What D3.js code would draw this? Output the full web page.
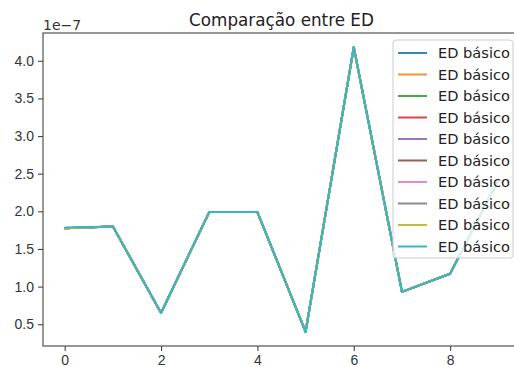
<!DOCTYPE html>
<html lang="en">
<head>
    <meta charset="utf-8">
    <title>Comparação entre ED</title>
    <script src="https://cdn.jsdelivr.net/npm/d3@7"></script>
</head>
<style>
    body {
        margin: 0;
        padding: 0;
        background-color: #ffffff;
        font-family: "DejaVu Sans", sans-serif;
    }
    .tick text {
        font-size: 14px;
        fill: #333;
    }
    .chart-title {
        font-size: 16.8px;
        text-anchor: middle;
        fill: #222;
    }
    .legend text {
        font-size: 14.6px;
        fill: #222;
    }
</style>
<body>
    <svg width="514" height="367" id="chart"></svg>
    <script>
        // x positions (index of each run)
        var xValues = [0, 1, 2, 3, 4, 5, 6, 7, 8, 9];

        // one array per "ED básico" series, values in units of 1e-7
        var series0 = [1.775, 1.80, 0.65, 1.99, 1.99, 0.40, 4.18, 0.93, 1.17, 2.42];
        var series1 = [1.775, 1.80, 0.65, 1.99, 1.99, 0.40, 4.18, 0.93, 1.17, 2.42];
        var series2 = [1.775, 1.80, 0.65, 1.99, 1.99, 0.40, 4.18, 0.93, 1.17, 2.42];
        var series3 = [1.775, 1.80, 0.65, 1.99, 1.99, 0.40, 4.18, 0.93, 1.17, 2.42];
        var series4 = [1.775, 1.80, 0.65, 1.99, 1.99, 0.40, 4.18, 0.93, 1.17, 2.42];
        var series5 = [1.775, 1.80, 0.65, 1.99, 1.99, 0.40, 4.18, 0.93, 1.17, 2.42];
        var series6 = [1.775, 1.80, 0.65, 1.99, 1.99, 0.40, 4.18, 0.93, 1.17, 2.42];
        var series7 = [1.775, 1.80, 0.65, 1.99, 1.99, 0.40, 4.18, 0.93, 1.17, 2.42];
        var series8 = [1.775, 1.80, 0.65, 1.99, 1.99, 0.40, 4.18, 0.93, 1.17, 2.42];
        var series9 = [1.785, 1.80, 0.65, 1.99, 1.99, 0.40, 4.18, 0.93, 1.17, 2.42];
        var allSeries = [series0, series1, series2, series3, series4, series5, series6, series7, series8, series9];

        var seriesNames = ["ED básico", "ED básico", "ED básico", "ED básico", "ED básico",
                           "ED básico", "ED básico", "ED básico", "ED básico", "ED básico"];

        var xTicks = [0, 2, 4, 6, 8];
        var yTicks = [0.5, 1.0, 1.5, 2.0, 2.5, 3.0, 3.5, 4.0];

        // matplotlib tab10, slightly muted like the screenshot
        var colors = ["#3a83b8", "#f88f3a", "#45a547", "#d2494a", "#9b78bc",
                      "#8f6459", "#e18bc8", "#8a8a8a", "#bfbf3c", "#35b8c4"];

        var svg = d3.select("#chart"),
            margin = { top: 33, right: -6, bottom: 21, left: 43 },
            width = +svg.attr("width") - margin.left - margin.right,
            height = +svg.attr("height") - margin.top - margin.bottom,
            g = svg.append("g").attr("transform", "translate(" + margin.left + "," + margin.top + ")");

        var x = d3.scaleLinear()
            .domain([-0.45, 9.45])
            .range([0, width]);

        var y = d3.scaleLinear()
            .domain([0.211, 4.369])
            .range([height, 0]);

        var line = d3.line()
            .x(function (d, i) { return x(xValues[i]); })
            .y(function (d) { return y(d); });

        g.selectAll(".series")
            .data(allSeries)
            .enter().append("path")
            .attr("class", "series")
            .attr("fill", "none")
            .attr("stroke", function (d, i) { return colors[i]; })
            .attr("stroke-width", 2)
            .attr("stroke-linejoin", "round")
            .attr("d", line);

        // axes
        var xAxis = g.append("g")
            .attr("transform", "translate(0," + height + ")")
            .call(d3.axisBottom(x).tickValues(xTicks).tickFormat(d3.format("d")).tickSizeOuter(0).tickSize(5).tickPadding(4));

        var yAxis = g.append("g")
            .call(d3.axisLeft(y).tickValues(yTicks).tickFormat(d3.format(".1f")).tickSizeOuter(0).tickSize(5).tickPadding(4));

        [xAxis, yAxis].forEach(function (a) {
            a.select(".domain").remove();
            a.selectAll(".tick line").attr("stroke", "#444").attr("stroke-width", 1.1);
        });

        // spines
        g.append("rect")
            .attr("x", 0)
            .attr("y", 0)
            .attr("width", width)
            .attr("height", height)
            .attr("fill", "none")
            .attr("stroke", "#444")
            .attr("stroke-width", 1.1);

        // offset text
        svg.append("text")
            .attr("x", margin.left)
            .attr("y", 30)
            .attr("font-size", "14px")
            .attr("fill", "#333")
            .text("1e\u22127");

        // title
        svg.append("text")
            .attr("class", "chart-title")
            .attr("x", margin.left + width / 2)
            .attr("y", 26)
            .text("Comparação entre ED");

        // legend
        var legendX = 393, legendY = 40, rowH = 21.5;
        var legend = svg.append("g").attr("class", "legend");

        legend.append("rect")
            .attr("x", legendX)
            .attr("y", legendY)
            .attr("width", 120)
            .attr("height", 218)
            .attr("rx", 3)
            .attr("fill", "#fff")
            .attr("fill-opacity", 0.8)
            .attr("stroke", "#ccc")
            .attr("stroke-width", 1);

        var rows = legend.selectAll(".row")
            .data(seriesNames)
            .enter().append("g")
            .attr("class", "row")
            .attr("transform", function (d, i) { return "translate(" + legendX + "," + (legendY + 13 + i * rowH) + ")"; });

        rows.append("line")
            .attr("x1", 5)
            .attr("x2", 34)
            .attr("stroke", function (d, i) { return colors[i]; })
            .attr("stroke-width", 2);

        rows.append("text")
            .attr("x", 45)
            .attr("dy", "0.36em")
            .text(function (d) { return d; });
    </script>
</body>
</html>
